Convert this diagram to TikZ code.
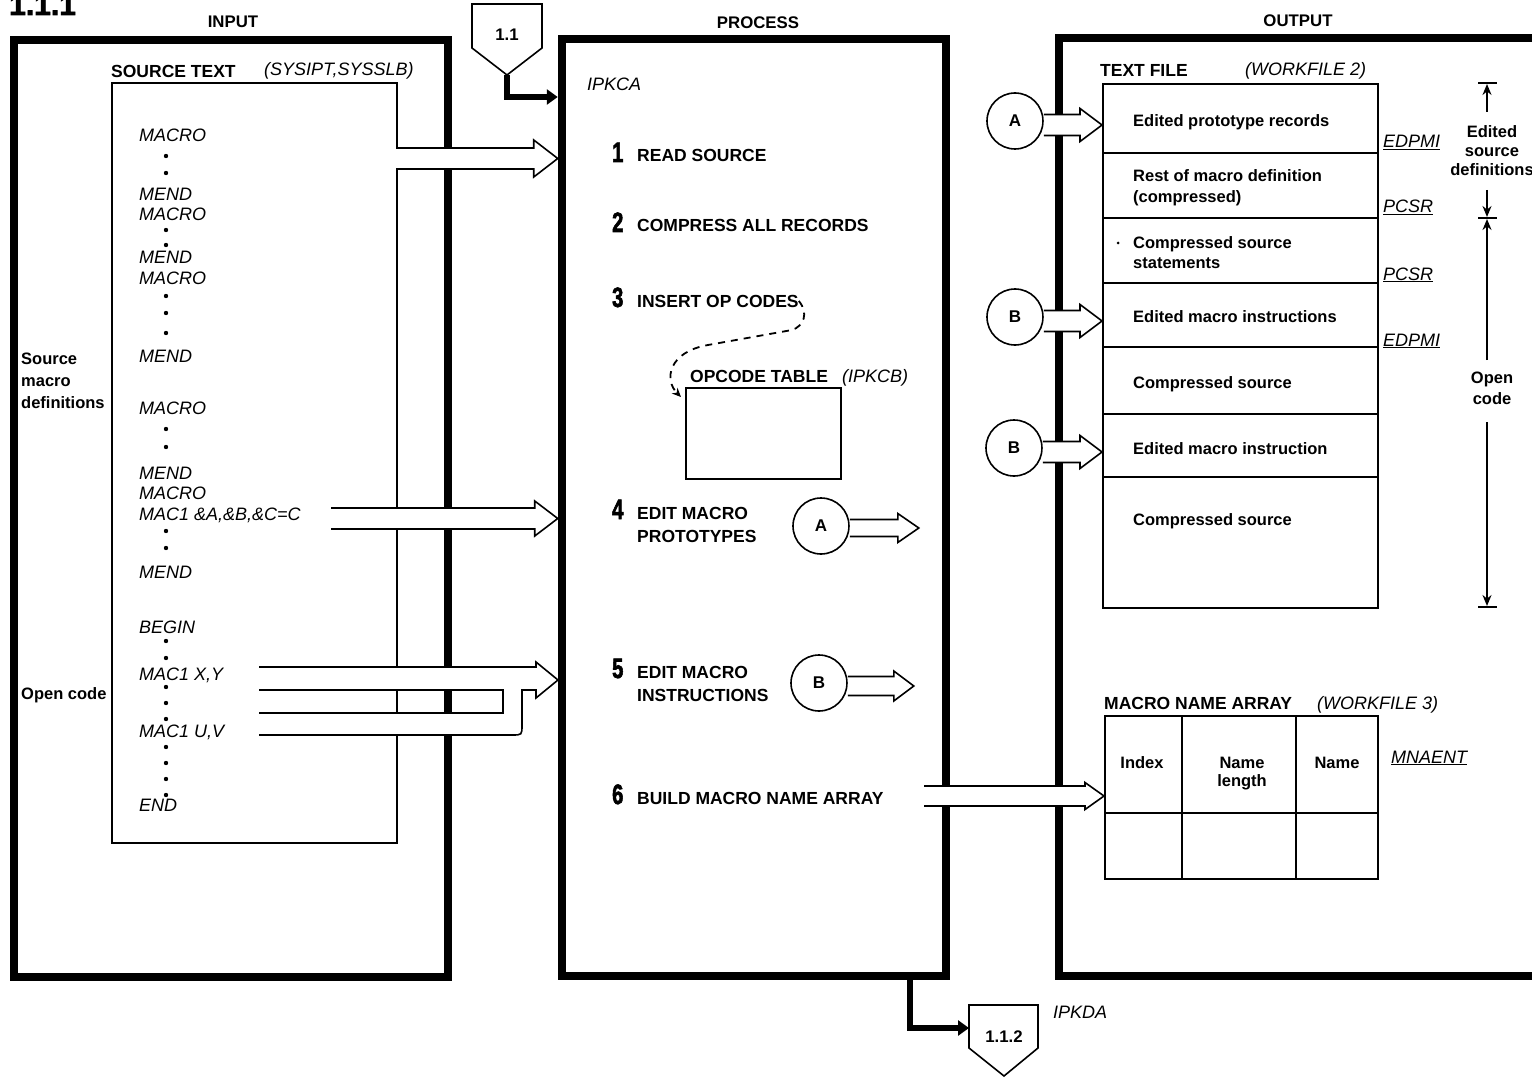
\documentclass[tikz,border=0pt]{standalone}
\usepackage{fontspec}
\setmainfont{Liberation Sans}
\newfontfamily\numfont[BoldFeatures={FakeBold=2.5}]{Liberation Sans}
\usetikzlibrary{arrows.meta,calc,positioning}

\tikzset{
  bigbox/.style={draw, line width=8.5pt, inner sep=0pt},
  thinbox/.style={draw, line width=1.6pt, inner sep=0pt},
  fat/.style={draw, fill=white, line width=1.6pt},
  flow/.style={line width=6.5pt, -{Triangle[length=11pt,width=15pt]}},
  hd/.style={font=\fontsize{16.8}{20}\selectfont\bfseries, inner sep=0pt},
  lbl/.style={font=\fontsize{17.5}{20}\selectfont\bfseries, anchor=base west, inner sep=0pt},
  txt/.style={font=\fontsize{16.5}{20}\selectfont\bfseries, anchor=base west, inner sep=0pt},
  itl/.style={font=\fontsize{18}{20}\selectfont\itshape, anchor=base west, inner sep=0pt},
  num/.style={font=\fontsize{28}{28}\selectfont\numfont\bfseries, anchor=base west, inner sep=0pt, xscale=0.72},
  conn/.style={circle, draw, line width=1.6pt, minimum size=56pt, inner sep=0pt, font=\fontsize{17}{20}\selectfont\bfseries},
  dim/.style={line width=1.5pt},
  dimtip/.style={-{Stealth[length=11pt,width=9pt]}},
}

\newcommand{\fatarrow}[5]{%
  \draw[fat] let \p1=(#1), \p2=(#2) in
    (\x1,\y1+#3pt) -- (\x2-#5pt,\y1+#3pt) -- (\x2-#5pt,\y1+#4pt) -- (\x2,\y1)
    -- (\x2-#5pt,\y1-#4pt) -- (\x2-#5pt,\y1-#3pt) -- (\x1,\y1-#3pt);}

\begin{document}
\begin{tikzpicture}[x=1pt,y=-1pt]
  \useasboundingbox (0,0) rectangle (1532,1078);
  \node[font=\fontsize{30}{30}\selectfont\numfont\bfseries, anchor=base west, inner sep=0pt] (fig) at (9,15) {1.1.1};

  \node[hd, anchor=base] (hin) at (233,28) {INPUT};
  \node[hd, anchor=base] (hpr) at (758,29) {PROCESS};
  \node[hd, anchor=base] (hout) at (1298,27) {OUTPUT};

  % input
  \node[bigbox, minimum width=434, minimum height=937] (inbox) at (231,508.5) {};
  \node[thinbox, minimum width=285, minimum height=760, anchor=north west] (src) at (111,82) {};
  \node[lbl] (srct) at (111,78) {SOURCE TEXT};
  \node[itl] (srcf) at (264,76) {(SYSIPT,SYSSLB)};
  \foreach \b/\t in {142/MACRO, 201/MEND, 221/MACRO, 264/MEND, 284/MACRO, 362/MEND, 414/MACRO,
      479/MEND, 499/MACRO, 520/{MAC1 \&A,\&B,\&C=C}, 578/MEND, 633/BEGIN, 680/{MAC1 X,Y},
      737/{MAC1 U,V}, 811/END}
    \node[itl] (s\b) at (139,\b) {\t};
  \foreach \y in {156,173,230,245,296,313,333,429,447,531,548,641,658,687,703,719,747,763,779,795}
    \fill (166,\y) circle (2.2pt);
  \foreach \b/\t in {364/Source, 386/macro, 408/definitions, 699/Open code}
    \node[txt] (l\b) at (21,\b) {\t};

  % process
  \node[bigbox, minimum width=384, minimum height=937] (proc) at (754,507.5) {};
  \coordinate (a1) at (396,158.5);
  \coordinate (a2) at (331,518.5);
  \fatarrow{a1}{a1 -| proc.west}{10.5}{18.5}{24}
  \fatarrow{a2}{a2 -| proc.west}{10.5}{17.5}{23}
  \draw[fat, even odd rule] (259,667) -- (536,667) -- (536,662) -- (558,680) -- (536,698) -- (536,690)
    -- (522,690) -- (522,725) .. controls (522,735) .. (512,735) -- (259,735)
    (259,690) -- (503,690) -- (503,713) -- (259,713);

  \draw[thinbox] (472,4) -- (542,4) -- (542,48) -- (507,75) coordinate (t11) -- (472,48) -- cycle;
  \node[hd] (c11) at (507,35) {1.1};
  \draw[flow] (t11) -- ++(0,22) coordinate (k11) -- (k11 -| proc.west);

  \node[itl] (ipkca) at (587,91) {IPKCA};
  \foreach \n/\b/\t in {1/162/READ SOURCE, 2/232/COMPRESS ALL RECORDS, 3/307/INSERT OP CODES,
      6/804/BUILD MACRO NAME ARRAY} {
    \node[num] (n\n) at (612,\b) {\n};
    \node[lbl] (st\n) at (637,\b) {\t};}
  \foreach \n/\b/\t/\u in {4/519/EDIT MACRO/PROTOTYPES, 5/678/EDIT MACRO/INSTRUCTIONS} {
    \node[num] (n\n) at (612,\b) {\n};
    \node[lbl] (st\n) at (637,\b) {\t};
    \node[lbl] (su\n) at (637,\b+23) {\u};}

  \node[thinbox, minimum width=155, minimum height=91, anchor=north west] (opc) at (685,387) {};
  \node[lbl] (opct) at (690,382) {OPCODE TABLE};
  \node[itl] (opcf) at (842,382) {(IPKCB)};
  \draw[line width=1.8pt, dash pattern=on 7pt off 6pt, -{Stealth[length=9pt,width=8pt]}]
    (st3.east) .. controls +(10,12) and +(12,-4) .. (792,330) -- (708,345)
    .. controls (668,352) and (664,380) .. ($(opc.north west)+(-4,10)$);

  \node[conn] (conA) at (821,526) {A};
  \node[conn] (conB) at (819,683) {B};
  \fatarrow{$(conA.east)+(0,2)$}{$(conA.east)+(69,0)$}{8.5}{14.5}{21}
  \fatarrow{$(conB.east)+(0,3)$}{$(conB.east)+(66,0)$}{9.5}{15}{20}

  % output
  \node[bigbox, minimum width=500, minimum height=938] (outbox) at (1309,507) {};
  \node[thinbox, minimum width=275, minimum height=524, anchor=north west] (tf) at (1102,83) {};
  \node[lbl] (tft) at (1100,77) {TEXT FILE};
  \node[itl] (tff) at (1245,76) {(WORKFILE 2)};
  \foreach \y in {153,218,283,347,414,477}
    \draw[line width=1.6pt] (1102,\y) -- (1377,\y);
  \foreach \b/\t in {127/Edited prototype records, 182/Rest of macro definition, 203/(compressed),
      249/Compressed source, 269/statements, 323/Edited macro instructions, 388/Compressed source,
      454/Edited macro instruction, 525/Compressed source}
    \node[txt] (r\b) at (1133,\b) {\t};
  \fill (1118,243) circle (1.5pt);
  \foreach \b/\t in {148/EDPMI, 213/PCSR, 280/PCSR, 346/EDPMI}
    \node[itl] (u\b) at (1383,\b) {\underline{\t}};

  \foreach \b/\t in {138/Edited, 157/source, 176/definitions, 383/Open, 404/code}
    \node[txt, anchor=base] (d\b) at (1492,\b) {\t};
  \draw[dim] (1478,83) -- (1497,83) (1478,218) -- (1497,218) (1478,607) -- (1497,607);
  \draw[dim, dimtip] (1487,112) -- (1487,84);
  \draw[dim, dimtip] (1487,190) -- (1487,217);
  \draw[dim, dimtip] (1487,360) -- (1487,219);
  \draw[dim, dimtip] (1487,422) -- (1487,606);

  \node[conn] (outA) at (1015,121) {A};
  \node[conn] (outB) at (1015,317) {B};
  \node[conn] (outC) at (1014,448) {B};
  \foreach \c in {outA,outB,outC} {
    \fatarrow{$(\c.east)+(0,4)$}{\c.east -| tf.west}{10.5}{16.5}{22}}

  \node[thinbox, minimum width=273, minimum height=163, anchor=north west] (mna) at (1104,715) {};
  \draw[line width=1.6pt] (1182,715) -- (1182,878) (1296,715) -- (1296,878) (1104,813) -- (1377,813);
  \node[lbl] (mnat) at (1104,709) {MACRO NAME ARRAY};
  \node[itl] (mnaf) at (1317,709) {(WORKFILE 3)};
  \node[txt, anchor=base] (ix) at (1142,768) {Index};
  \node[txt, anchor=base] (nl) at (1242,768) {Name};
  \node[txt, anchor=base] (nl2) at (1242,786) {length};
  \node[txt, anchor=base] (nm) at (1337,768) {Name};
  \node[itl] (mnaent) at (1391,763) {\underline{MNAENT}};
  \coordinate (a6) at (924,796);
  \fatarrow{a6}{a6 -| mna.west}{10}{13.5}{19}

  % exit
  \draw[thinbox] (969,1005) -- (1038,1005) -- (1038,1048) -- (1004,1076) -- (969,1048) -- cycle;
  \node[hd] (c112) at (1004,1037) {1.1.2};
  \node[itl] (ipkda) at (1053,1018) {IPKDA};
  \coordinate (x0) at (910,976);
  \coordinate (e112) at (969,1028);
  \draw[flow] (x0) |- (e112);
\end{tikzpicture}
\end{document}
